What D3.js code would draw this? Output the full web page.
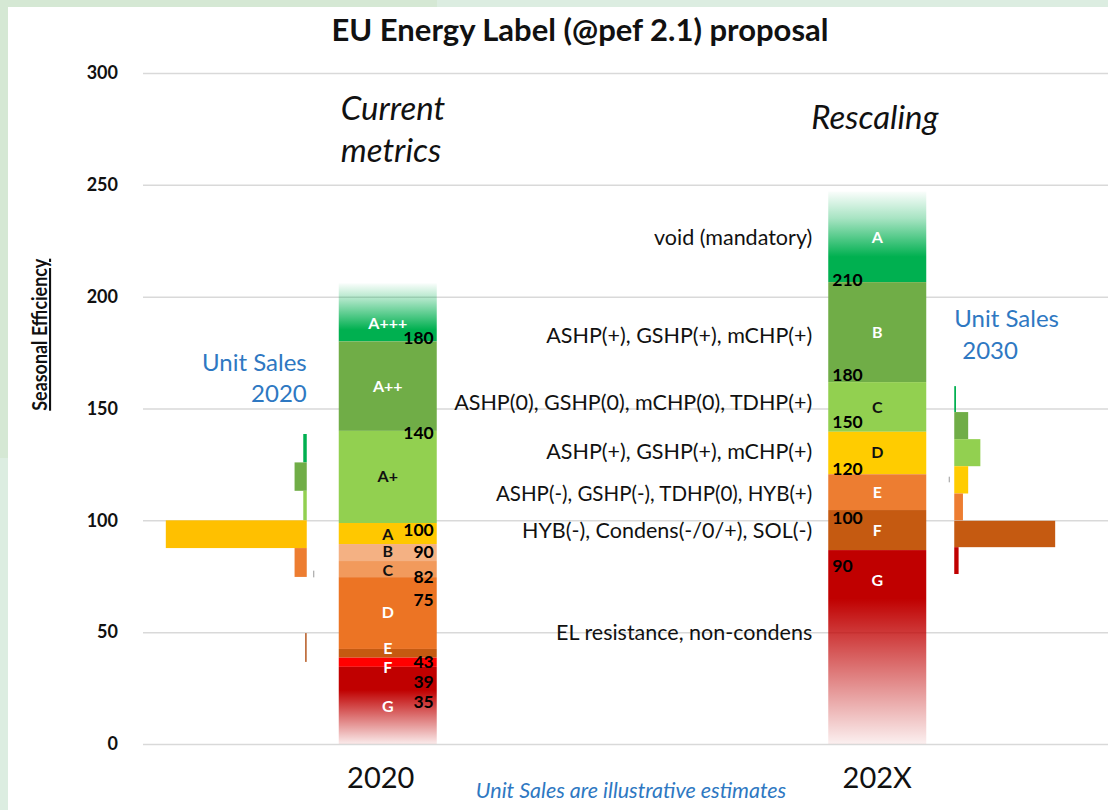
<!DOCTYPE html>
<html>
<head>
<meta charset="utf-8">
<script src="https://cdn.jsdelivr.net/npm/d3@7"></script>
<style>
  body { margin: 0; background: #fff; }
  text { font-family: Lato, "Open Sans", sans-serif; }
</style>
</head>
<body>
<svg id="chart" width="1108" height="810"></svg>
<script>
// label periods and y axis ticks
const periods = ["2020", "202X"];
const yTicks = [0, 50, 100, 150, 200, 250, 300];

// 2020 label classes (top bound of each class, last entry is the floor)
const grades2020 = ["A+++", "A++", "A+", "A", "B", "C", "D", "E", "F", "G"];
const bounds2020 = [206, 180, 140, 98.8, 89.4, 81.8, 74.6, 42.5, 38.6, 34.5, 0];
const letterAt2020 = [188, 160, 119.5, 93.8, 86, 77.6, 58.8, 43, 34.4, 17];
const thresholds2020 = ["180", "140", "100", "90", "82", "75", "43", "39", "35"];
const thresholdAt2020 = [181.5, 139, 96, 85.8, 74.6, 64.4, 36.7, 27.7, 18.8];

// 202X rescaled classes
const gradesX = ["A", "B", "C", "D", "E", "F", "G"];
const boundsX = [247, 206.5, 161.8, 139.6, 120.6, 104.6, 86.7, 0];
const letterAtX = [226.6, 184, 150.5, 130.3, 112.5, 95.6, 73.3];
const thresholdsX = ["210", "180", "150", "120", "100", "90"];
const thresholdAtX = [207.4, 165, 144, 123, 101, 79.6];

// technologies per rescaled class
const techText = [
  "void (mandatory)",
  "ASHP(+), GSHP(+), mCHP(+)",
  "ASHP(0), GSHP(0), mCHP(0), TDHP(+)",
  "ASHP(+), GSHP(+), mCHP(+)",
  "ASHP(-), GSHP(-), TDHP(0), HYB(+)",
  "HYB(-), Condens(-/0/+), SOL(-)",
  "EL resistance, non-condens"
];
const techAt = [226.6, 182.8, 152.9, 131, 111.8, 95.7, 50];

// unit sales (share of units, %), each bar spans an efficiency band
const salesGrade2020 = ["A+++", "A++", "A+", "A", "D", "E"];
const salesTop2020 = [138.6, 125.9, 113.2, 100, 87.6, 49.6];
const salesBottom2020 = [125.9, 113.2, 100, 87.6, 74.7, 36.7];
const salesShare2020 = [2, 7, 2, 81, 7, 1];

const salesGrade2030 = ["A", "B", "C", "D", "E", "F", "G"];
const salesTop2030 = [160, 148.4, 136.3, 124.2, 112, 99.8, 88];
const salesBottom2030 = [148.4, 136.3, 124.2, 112, 100, 88, 76];
const salesShare2030 = [1, 8, 15, 8, 5, 58, 2.5];

// colours
const colors2020 = {
  "A+++": "#00b050", "A++": "#70ad47", "A+": "#92d050", "A": "#ffc800",
  "B": "#f4b183", "C": "#f29a5c", "D": "#ec7424", "E": "#c55a11",
  "F": "#ff0000", "G": "#c00000"
};
const salesColors2020 = {
  "A+++": "#00b050", "A++": "#70ad47", "A+": "#92d050", "A": "#ffc000",
  "D": "#ed7d31", "E": "#c07040"
};
const colorsX = {
  "A": "#00b050", "B": "#70ad47", "C": "#92d050", "D": "#ffcc00",
  "E": "#ed7d31", "F": "#c55a11", "G": "#c00000"
};
const darkText = ["A+", "A", "B", "C"];
const darkTextX = ["C", "D"];
const blue = "#2e78c2";

const svg = d3.select("#chart");
const W = +svg.attr("width"), H = +svg.attr("height");

// frame
svg.append("rect").attr("width", W).attr("height", H).attr("fill", "#fff");
svg.append("rect").attr("x", 0).attr("y", 0).attr("width", 437).attr("height", 7).attr("fill", "#d5e8d4");
svg.append("rect").attr("x", 437).attr("y", 0).attr("width", W - 437).attr("height", 7).attr("fill", "#dcede1");
svg.append("rect").attr("x", 0).attr("y", 0).attr("width", 8).attr("height", 458).attr("fill", "#d5e8d4");
svg.append("rect").attr("x", 0).attr("y", 458).attr("width", 8).attr("height", H - 458).attr("fill", "#dcede1");

const margin = { top: 73, bottom: 66, left: 143, right: -14 };
const y = d3.scaleLinear().domain([0, 300]).range([H - margin.bottom, margin.top]);
const x = d3.scalePoint().domain(periods).range([margin.left, W - margin.right]).padding(0.5);
const barW = 98;
const sales = d3.scaleLinear().domain([0, 100]).range([0, 174]);

// gridlines + tick labels
const yAxis = svg.append("g")
  .attr("transform", `translate(${margin.left},0)`)
  .call(d3.axisLeft(y).tickValues(yTicks).tickSize(-(W - margin.left)).tickPadding(25));
yAxis.select(".domain").remove();
yAxis.selectAll(".tick line").attr("stroke", "#d9d9d9").attr("stroke-width", 1.5);
yAxis.selectAll(".tick text")
  .attr("fill", "#111").style("font-size", "18px").style("font-weight", "bold")
  .style("font-family", "Lato, sans-serif");

// gradients
const defs = svg.append("defs");
function fade(id, color, stops) {
  const g = defs.append("linearGradient").attr("id", id)
    .attr("x1", 0).attr("y1", 0).attr("x2", 0).attr("y2", 1);
  stops.forEach(s => g.append("stop").attr("offset", s[0]).attr("stop-color", color).attr("stop-opacity", s[1]));
}
fade("topFade2020", colors2020["A+++"], [[0, 0.02], [0.3, 0.35], [0.8, 1], [1, 1]]);
fade("topFadeX", colorsX["A"], [[0, 0.02], [0.3, 0.35], [0.72, 1], [1, 1]]);
fade("botFade2020", colors2020["G"], [[0, 1], [0.3, 1], [1, 0.08]]);
fade("botFadeX", colorsX["G"], [[0, 1], [0.25, 1], [1, 0.06]]);

function labelBar(period, grades, bounds, colors, letterAt, dark, topId, botId) {
  const cx = x(period);
  const g = svg.append("g");
  g.selectAll("rect").data(grades).join("rect")
    .attr("x", cx - barW / 2)
    .attr("width", barW)
    .attr("y", (d, i) => y(bounds[i]))
    .attr("height", (d, i) => y(bounds[i + 1]) - y(bounds[i]))
    .attr("fill", (d, i) => i === 0 ? `url(#${topId})` : i === grades.length - 1 ? `url(#${botId})` : colors[d]);
  g.selectAll("text").data(grades).join("text")
    .attr("x", cx)
    .attr("y", (d, i) => y(letterAt[i]))
    .attr("dy", "0.36em")
    .attr("text-anchor", "middle")
    .style("font-size", "16px").style("font-weight", "bold")
    .attr("fill", d => dark.includes(d) ? "#111" : "#fff")
    .text(d => d);
}
labelBar("2020", grades2020, bounds2020, colors2020, letterAt2020, darkText, "topFade2020", "botFade2020");
labelBar("202X", gradesX, boundsX, colorsX, letterAtX, darkTextX, "topFadeX", "botFadeX");

// threshold numbers
svg.append("g").selectAll("text").data(thresholds2020).join("text")
  .attr("x", x("2020") + barW / 2 - 3)
  .attr("y", (d, i) => y(thresholdAt2020[i]))
  .attr("dy", "0.36em").attr("text-anchor", "end")
  .style("font-size", "17.5px").style("font-weight", "bold").attr("fill", "#000")
  .text(d => d);
svg.append("g").selectAll("text").data(thresholdsX).join("text")
  .attr("x", x("202X") - barW / 2 + 4)
  .attr("y", (d, i) => y(thresholdAtX[i]))
  .attr("dy", "0.36em").attr("text-anchor", "start")
  .style("font-size", "17.5px").style("font-weight", "bold").attr("fill", "#000")
  .text(d => d);

// technology descriptions
svg.append("g").selectAll("text").data(techText).join("text")
  .attr("x", x("202X") - barW / 2 - 16)
  .attr("y", (d, i) => y(techAt[i]))
  .attr("dy", "0.36em").attr("text-anchor", "end")
  .style("font-size", (d, i) => i === 4 ? "20.5px" : "21.5px")
  .attr("fill", "#111")
  .text(d => d);

// unit sales bars
const base2020 = x("2020") - 81;
svg.append("g").selectAll("rect").data(salesGrade2020).join("rect")
  .attr("x", (d, i) => base2020 - sales(salesShare2020[i]))
  .attr("width", (d, i) => sales(salesShare2020[i]))
  .attr("y", (d, i) => y(salesTop2020[i]))
  .attr("height", (d, i) => y(salesBottom2020[i]) - y(salesTop2020[i]))
  .attr("fill", d => salesColors2020[d]);
const base2030 = x("202X") + 77;
svg.append("g").selectAll("rect").data(salesGrade2030).join("rect")
  .attr("x", base2030)
  .attr("width", (d, i) => sales(salesShare2030[i]))
  .attr("y", (d, i) => y(salesTop2030[i]))
  .attr("height", (d, i) => y(salesBottom2030[i]) - y(salesTop2030[i]))
  .attr("fill", d => colorsX[d]);
// tiny markers beside the sales bars
svg.append("line").attr("x1", base2020 + 7).attr("x2", base2020 + 7)
  .attr("y1", y(77.5)).attr("y2", y(74.5)).attr("stroke", "#999").attr("stroke-width", 1);
svg.append("line").attr("x1", base2030 - 5).attr("x2", base2030 - 5)
  .attr("y1", y(119.5)).attr("y2", y(117)).attr("stroke", "#999").attr("stroke-width", 1);

// titles and annotations
svg.append("text").attr("x", 580).attr("y", 41).attr("text-anchor", "middle")
  .style("font-size", "31px").style("font-weight", "bold").attr("fill", "#111")
  .text("EU Energy Label (@pef 2.1) proposal");

svg.append("text")
  .attr("transform", `translate(47,${y(183)}) rotate(-90)`)
  .attr("text-anchor", "middle")
  .attr("textLength", 152).attr("lengthAdjust", "spacingAndGlyphs")
  .style("font-size", "21px").style("font-weight", "bold")
  .style("text-decoration", "underline").attr("fill", "#111")
  .text("Seasonal Efficiency");

const ital = svg.append("g").style("font-style", "italic").style("font-size", "33px").attr("fill", "#111");
ital.append("text").attr("x", x("2020") - barW / 2 + 2).attr("y", 120).text("Current");
ital.append("text").attr("x", x("2020") - barW / 2 + 2).attr("y", 162).text("metrics");
ital.append("text").attr("x", x("202X") - 66).attr("y", 129).text("Rescaling");

const us = svg.append("g").style("font-size", "24px").attr("fill", blue);
us.append("text").attr("x", base2020).attr("y", 371).attr("text-anchor", "end").text("Unit Sales");
us.append("text").attr("x", base2020).attr("y", 402).attr("text-anchor", "end").text("2020");
us.append("text").attr("x", base2030).attr("y", 327).text("Unit Sales");
us.append("text").attr("x", base2030 + 8).attr("y", 359).text("2030");

svg.append("g").selectAll("text").data(periods).join("text")
  .attr("x", d => x(d)).attr("dx", (d, i) => i === 0 ? -7 : 0)
  .attr("y", 788).attr("text-anchor", "middle")
  .style("font-size", "29px").attr("fill", "#111")
  .text(d => d);

svg.append("text").attr("x", 631).attr("y", 798).attr("text-anchor", "middle")
  .style("font-size", "21.5px").style("font-style", "italic").attr("fill", blue)
  .text("Unit Sales are illustrative estimates");
</script>
</body>
</html>
